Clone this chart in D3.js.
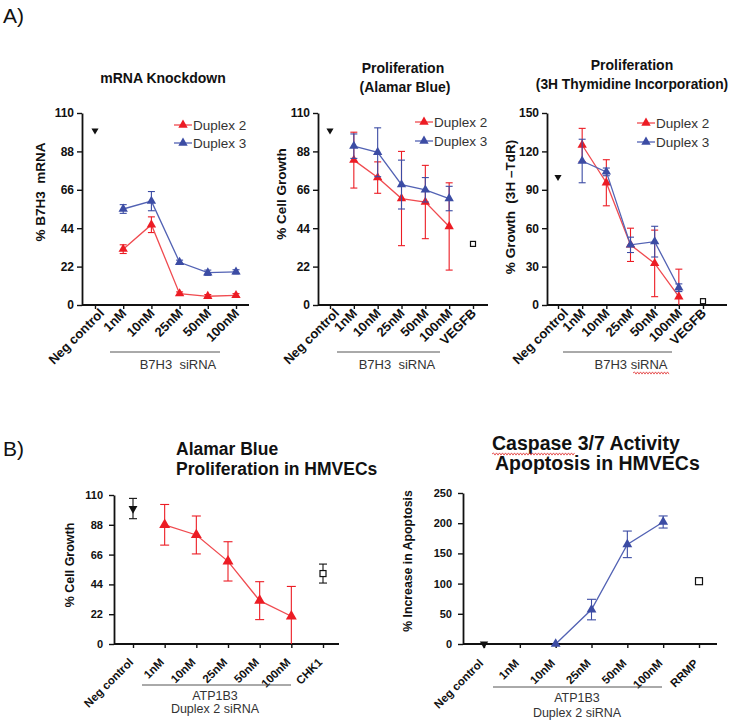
<!DOCTYPE html>
<html><head><meta charset="utf-8">
<script src="https://cdn.jsdelivr.net/npm/d3@7"></script>
<style>body{margin:0;background:#fff}svg{display:block}</style>
</head><body><svg id="c" width="731" height="723"></svg>
<script>
// ---------------- DATA ----------------
const concentrations = ["1nM", "10nM", "25nM", "50nM", "100nM"];
const catsA1 = ["Neg control", ...concentrations];
const catsA2 = ["Neg control", ...concentrations, "VEGFB"];
const catsA3 = ["Neg control", ...concentrations, "VEGFB"];
const catsB1 = ["Neg control", ...concentrations, "CHK1"];
const catsB2 = ["Neg control", ...concentrations, "RRMP"];
const ticks110 = [0, 22, 44, 66, 88, 110];
const ticks150 = [0, 30, 60, 90, 120, 150];
const ticks250 = [0, 50, 100, 150, 200, 250];
const seriesNames = ["Duplex 2", "Duplex 3"];

// A1 mRNA knockdown
const a1Neg = 100;
const a1Dup2 = [32, 46, 6.5, 5, 5.5];
const a1Dup2Err = [2.5, 4.5, 1, 1, 1];
const a1Dup3 = [55, 59.5, 24.5, 18.5, 19];
const a1Dup3Err = [2.5, 5.5, 1.2, 1.5, 1.2];
// A2 Alamar Blue
const a2Neg = 100;
const a2Vegfb = 35;
const a2Dup2 = [83, 73, 61, 59, 45];
const a2Dup2Err = [16, 9, 27, 21, 25];
const a2Dup3 = [91, 87.5, 69, 66, 61];
const a2Dup3Err = [7, 14, 14, 7, 7];
// A3 3H thymidine
const a3Neg = 100;
const a3Vegfb = 3;
const a3Dup2 = [125, 95.5, 47, 32.5, 6.5];
const a3Dup2Err = [13, 18, 13, 26, 21.5];
const a3Dup3 = [112.5, 104, 47, 49.5, 13.5];
const a3Dup3Err = [17, 3, 6, 12, 3];
// B1 Alamar Blue HMVECs
const b1Neg = 100, b1NegErr = 7.5;
const b1Dup2 = [88, 80.5, 61, 32, 20.5];
const b1Dup2Err = [15, 14, 14.5, 14, 22];
const b1Chk1 = 52, b1Chk1Err = 7;
// B2 Caspase 3/7
const b2Neg = 0;
const b2Cats = ["10nM", "25nM", "50nM", "100nM"];
const b2Dup2 = [0, 57, 165, 202];
const b2Dup2Err = [0, 17, 22, 10];
const b2Rrmp = 104;

// ---------------- DRAWING ----------------
const FONT = "'Liberation Sans', Arial, Helvetica, sans-serif";
const RED = "#ec1c24", RED_LINE = "#f04b50", BLUE = "#3c4ca4", BLUE_LINE = "#5262b4";
const svg = d3.select("#c").attr("font-family", FONT);

function txt(g, x, y, s, o = {}) {
  return g.append("text").attr("x", x).attr("y", y).text(s)
    .attr("font-size", o.size || 12).attr("font-weight", o.weight || "normal")
    .attr("text-anchor", o.anchor || "start").attr("fill", o.fill || "#111")
    .style("white-space", "pre");
}
function wavy(x1, x2, yy) {
  const p = d3.path(); p.moveTo(x1, yy);
  let up = true;
  for (let xx = x1 + 1.5; xx <= x2; xx += 1.5) { p.lineTo(xx, yy + (up ? -1.1 : 1.1)); up = !up; }
  svg.append("path").attr("d", p.toString()).attr("fill", "none").attr("stroke", "#e03030").attr("stroke-width", 0.8);
}

function panel(o) {
  const g = svg.append("g");
  const x = d3.scalePoint().domain(o.cats).range(o.catRange);
  const y = d3.scaleLinear().domain([0, o.ymax]).range([o.bottom, o.top]);
  const ya = g.append("g").attr("transform", `translate(${o.x0},0)`)
    .call(d3.axisLeft(y).tickValues(o.ticks).tickSize(5).tickPadding(o.tickPad).tickSizeOuter(0));
  ya.attr("font-family", FONT).attr("font-size", o.tickFont).attr("font-weight", "bold");
  ya.select(".domain").attr("stroke", "#111").attr("stroke-width", 1.8);
  ya.selectAll(".tick line").attr("stroke", "#111").attr("stroke-width", 1.4);
  ya.selectAll(".tick text").attr("fill", "#111");
  const xa = g.append("g").attr("transform", `translate(0,${o.bottom})`)
    .call(d3.axisBottom(x).tickSize(4).tickFormat("").tickSizeOuter(0));
  xa.select(".domain").attr("d", `M${o.x0},0H${o.xEnd}`).attr("stroke", "#111").attr("stroke-width", 1.8);
  xa.selectAll(".tick line").attr("stroke", "#111").attr("stroke-width", 1.4);
  g.append("g").selectAll("text").data(o.cats).join("text")
    .attr("transform", d => `translate(${x(d) + (d === "Neg control" ? o.negDx : o.lblDx)},${o.bottom + o.lblDy}) rotate(-45)`)
    .attr("text-anchor", "end").attr("font-size", o.lblFont).attr("font-weight", "bold")
    .attr("fill", "#111").text(d => d);
  // y title
  g.append("text").attr("transform", `translate(${o.yTitleX},${o.yTitleY}) rotate(-90)`)
    .attr("text-anchor", "middle").attr("dominant-baseline", "middle")
    .attr("font-size", o.yTitleSize).attr("font-weight", "bold").attr("fill", "#111")
    .style("white-space", "pre").text(o.yTitle);
  // group bracket
  g.append("line").attr("x1", o.grp[0]).attr("x2", o.grp[1]).attr("y1", o.grp[2]).attr("y2", o.grp[2])
    .attr("stroke", "#555").attr("stroke-width", 1);
  o.grpText.forEach((t, i) => txt(g, o.grpCx, o.grpBase[i], t, { size: o.grpSize, anchor: "middle", fill: "#333" }));
  return { g, x, y };
}

function series(P, cats, vals, errs, color, lineColor, size, capW) {
  const { g, x, y } = P;
  const pts = cats.map((c, i) => ({ c, v: vals[i], e: errs[i] }));
  const eg = g.append("g").selectAll("g").data(pts.filter(p => p.e > 0)).join("g")
    .attr("stroke", color).attr("stroke-width", 1.1);
  eg.append("line").attr("x1", p => x(p.c)).attr("x2", p => x(p.c))
    .attr("y1", p => y(Math.max(0, p.v - p.e))).attr("y2", p => y(p.v + p.e));
  eg.append("line").attr("x1", p => x(p.c) - capW / 2).attr("x2", p => x(p.c) + capW / 2)
    .attr("y1", p => y(p.v + p.e)).attr("y2", p => y(p.v + p.e));
  eg.filter(p => p.v - p.e > 0).append("line").attr("x1", p => x(p.c) - capW / 2).attr("x2", p => x(p.c) + capW / 2)
    .attr("y1", p => y(p.v - p.e)).attr("y2", p => y(p.v - p.e));
  g.append("path").datum(pts).attr("d", d3.line().x(p => x(p.c)).y(p => y(p.v)))
    .attr("fill", "none").attr("stroke", lineColor).attr("stroke-width", 1.3);
  g.append("g").selectAll("path").data(pts).join("path")
    .attr("transform", p => `translate(${x(p.c)},${y(p.v)})`)
    .attr("d", d3.symbol(d3.symbolTriangle, size)).attr("fill", color);
}

function negMarker(P, v, err, size, capW) {
  const { g, x, y } = P;
  const cx = x("Neg control");
  if (err) {
    g.append("line").attr("x1", cx).attr("x2", cx).attr("y1", y(v - err)).attr("y2", y(v + err)).attr("stroke", "#111").attr("stroke-width", 1.1);
    [v - err, v + err].forEach(e => g.append("line").attr("x1", cx - capW / 2).attr("x2", cx + capW / 2)
      .attr("y1", y(e)).attr("y2", y(e)).attr("stroke", "#111").attr("stroke-width", 1.1));
  }
  g.append("path").attr("transform", `translate(${cx},${y(v)}) rotate(180)`)
    .attr("d", d3.symbol(d3.symbolTriangle, size)).attr("fill", "#111");
}
function squareMarker(P, cat, v, err, s, capW) {
  const { g, x, y } = P;
  const cx = x(cat);
  if (err) {
    g.append("line").attr("x1", cx).attr("x2", cx).attr("y1", y(v - err)).attr("y2", y(v + err)).attr("stroke", "#111").attr("stroke-width", 1.1);
    [v - err, v + err].forEach(e => g.append("line").attr("x1", cx - capW / 2).attr("x2", cx + capW / 2)
      .attr("y1", y(e)).attr("y2", y(e)).attr("stroke", "#111").attr("stroke-width", 1.1));
  }
  g.append("rect").attr("x", cx - s / 2).attr("y", y(v) - s / 2).attr("width", s).attr("height", s)
    .attr("fill", "#fff").attr("stroke", "#111").attr("stroke-width", 1.2);
}
function legend(P, lx, ys) {
  const { g } = P;
  [[RED, RED_LINE], [BLUE, BLUE_LINE]].forEach(([c, lc], i) => {
    g.append("line").attr("x1", lx).attr("x2", lx + 18).attr("y1", ys[i]).attr("y2", ys[i]).attr("stroke", lc).attr("stroke-width", 1.3);
    g.append("path").attr("transform", `translate(${lx + 9},${ys[i]})`).attr("d", d3.symbol(d3.symbolTriangle, 38)).attr("fill", c);
    txt(g, lx + 19, ys[i] + 5, seriesNames[i], { size: 13.5, fill: "#333" });
  });
}

// Section labels
txt(svg, 3, 23, "A)", { size: 21 });
txt(svg, 3, 456, "B)", { size: 21 });

// ---- A1 ----
const A1 = panel({ cats: catsA1, catRange: [95, 236], x0: 82, xEnd: 249, top: 113, bottom: 305, ymax: 110,
  ticks: ticks110, tickFont: 12, tickPad: 3, lblDx: 4, negDx: 10, lblDy: 9, lblFont: 13,
  yTitle: "% B7H3  mRNA", yTitleX: 41, yTitleY: 192, yTitleSize: 13.5,
  grp: [110, 220, 352], grpText: ["B7H3  siRNA"], grpCx: 178, grpBase: [369], grpSize: 13 });
txt(svg, 163, 83, "mRNA Knockdown", { size: 14, weight: "bold", anchor: "middle" });
series(A1, concentrations, a1Dup2, a1Dup2Err, RED, RED_LINE, 38, 7);
series(A1, concentrations, a1Dup3, a1Dup3Err, BLUE, BLUE_LINE, 38, 7);
negMarker(A1, a1Neg, 0, 22, 7);
legend(A1, 174, [125, 143]);

// ---- A2 ----
const A2 = panel({ cats: catsA2, catRange: [330, 473], x0: 318, xEnd: 488, top: 113, bottom: 305, ymax: 110,
  ticks: ticks110, tickFont: 12, tickPad: 3, lblDx: 4, negDx: 10, lblDy: 9, lblFont: 13,
  yTitle: "% Cell Growth", yTitleX: 282, yTitleY: 194, yTitleSize: 13.5,
  grp: [337, 440, 352], grpText: ["B7H3  siRNA"], grpCx: 397, grpBase: [369], grpSize: 13 });
txt(svg, 403, 73, "Proliferation", { size: 14, weight: "bold", anchor: "middle" });
txt(svg, 405, 92, "(Alamar Blue)", { size: 14, weight: "bold", anchor: "middle" });
series(A2, concentrations, a2Dup2, a2Dup2Err, RED, RED_LINE, 38, 7);
series(A2, concentrations, a2Dup3, a2Dup3Err, BLUE, BLUE_LINE, 38, 7);
negMarker(A2, a2Neg, 0, 22, 7);
squareMarker(A2, "VEGFB", a2Vegfb, 0, 5, 6);
legend(A2, 415, [122, 141]);

// ---- A3 ----
const A3 = panel({ cats: catsA3, catRange: [558, 703], x0: 547, xEnd: 727, top: 113, bottom: 305, ymax: 150,
  ticks: ticks150, tickFont: 12, tickPad: 3, lblDx: 4, negDx: 11, lblDy: 9, lblFont: 13,
  yTitle: "% Growth  (3H \u2013TdR)", yTitleX: 511, yTitleY: 207, yTitleSize: 13.5,
  grp: [563, 672, 352], grpText: ["B7H3 siRNA"], grpCx: 631, grpBase: [369], grpSize: 13 });
txt(svg, 632, 70, "Proliferation", { size: 14, weight: "bold", anchor: "middle" });
txt(svg, 632, 89, "(3H Thymidine Incorporation)", { size: 13.8, weight: "bold", anchor: "middle" });
wavy(633, 670, 373);
series(A3, concentrations, a3Dup2, a3Dup2Err, RED, RED_LINE, 38, 7);
series(A3, concentrations, a3Dup3, a3Dup3Err, BLUE, BLUE_LINE, 38, 7);
negMarker(A3, a3Neg, 0, 22, 7);
squareMarker(A3, "VEGFB", a3Vegfb, 0, 5, 6);
legend(A3, 637, [123, 142]);

// ---- B1 ----
const B1 = panel({ cats: catsB1, catRange: [133, 323], x0: 114, xEnd: 339, top: 495, bottom: 644, ymax: 110,
  ticks: ticks110, tickFont: 11, tickPad: 6, lblDx: 0, negDx: 1, lblDy: 19, lblFont: 11.5,
  yTitle: "% Cell Growth", yTitleX: 71, yTitleY: 565, yTitleSize: 12.5,
  grp: [142, 291, 685], grpText: ["ATP1B3", "Duplex 2 siRNA"], grpCx: 215, grpBase: [700, 713], grpSize: 12.5 });
txt(svg, 176, 455, "Alamar Blue", { size: 17.5, weight: "bold" });
txt(svg, 176, 475, "Proliferation in HMVECs", { size: 17.5, weight: "bold" });
series(B1, concentrations, b1Dup2, b1Dup2Err, RED, RED_LINE, 52, 9);
negMarker(B1, b1Neg, b1NegErr, 34, 8);
squareMarker(B1, "CHK1", b1Chk1, b1Chk1Err, 6, 8);

// ---- B2 ----
const B2 = panel({ cats: catsB2, catRange: [484, 699], x0: 463, xEnd: 717, top: 493, bottom: 644, ymax: 250,
  ticks: ticks250, tickFont: 11, tickPad: 6, lblDx: 0, negDx: 0, lblDy: 20, lblFont: 11.5,
  yTitle: "% Increase in Apoptosis", yTitleX: 409, yTitleY: 561, yTitleSize: 12.3,
  grp: [493, 662, 687], grpText: ["ATP1B3", "Duplex 2 siRNA"], grpCx: 577, grpBase: [702, 717], grpSize: 12.5 });
txt(svg, 492, 450, "Caspase 3/7 Activity", { size: 19.5, weight: "bold" });
txt(svg, 495, 470, "Apoptosis in HMVECs", { size: 19.5, weight: "bold" });
wavy(492, 575, 454);
series(B2, b2Cats, b2Dup2, b2Dup2Err, BLUE, BLUE_LINE, 42, 9);
negMarker(B2, b2Neg, 0, 30, 8);
squareMarker(B2, "RRMP", b2Rrmp, 0, 7, 8);
</script></body></html>
